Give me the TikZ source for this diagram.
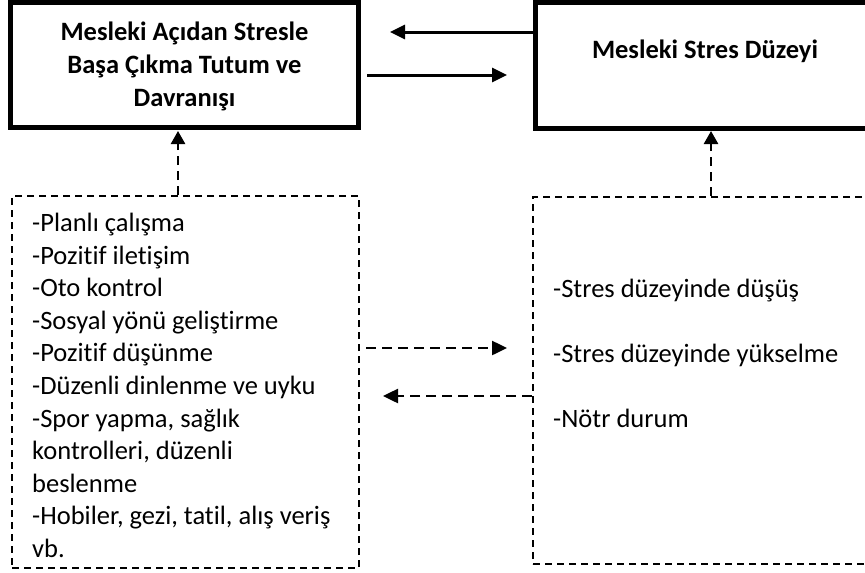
\documentclass[tikz,border=0pt]{standalone}
\usepackage{fontspec}
\setmainfont{Carlito}[Ligatures={NoCommon}]
\usetikzlibrary{arrows.meta}
\begin{document}
\begin{tikzpicture}[x=1pt,y=-1pt,
  thickbox/.style={draw, line width=5pt, rectangle, inner sep=0pt, fill=none},
  dbox/.style={draw, line width=1.8pt, dash pattern=on 7pt off 5pt, rectangle, inner sep=0pt},
  titletext/.style={font=\fontsize{26.5}{32.6}\selectfont\bfseries, align=center, inner sep=0pt},
  listtext/.style={font=\fontsize{26.5}{32.6}\selectfont, align=left, inner sep=0pt},
  solidarr/.style={line width=3pt, -{Triangle[length=15pt,width=14pt]}},
  dasharr/.style={line width=2.5pt, dash pattern=on 10pt off 6pt, -{Triangle[length=15pt,width=14pt]}},
  vdasharr/.style={line width=2.5pt, dash pattern=on 9pt off 6pt, -{Triangle[length=13pt,width=14pt]}}
]
\useasboundingbox (0,0) rectangle (865,573);
\clip (0,0) rectangle (865,573);
\fill[white] (0,0) rectangle (865,573);

% top boxes
\node[thickbox, minimum width=348pt, minimum height=125pt] (lb) at (184.5,65) {};
\node[titletext, anchor=base] (lbt) at (184.5,106) {Mesleki Açıdan Stresle\\Başa Çıkma Tutum ve\\Davranışı};
\node[thickbox, minimum width=348pt, minimum height=126pt] (rb) at (709,65.5) {};
\node[titletext, anchor=base] (rbt) at (705,58) {Mesleki Stres Düzeyi};

% dashed boxes
\node[dbox, minimum width=347pt, minimum height=372pt] (ld) at (185.5,382) {};
\node[dbox, minimum width=347pt, minimum height=367pt] (rd) at (706.5,380.5) {};

\node[listtext, anchor=base west] (ldt) at (32,557.5) {-Planlı çalışma\\-Pozitif iletişim\\-Oto kontrol\\-Sosyal yönü geliştirme\\-Pozitif düşünme\\-Düzenli dinlenme ve uyku\\-Spor yapma, sağlık\\kontrolleri, düzenli\\beslenme\\-Hobiler, gezi, tatil, alış veriş\\vb.};
\node[listtext, anchor=base west, font=\fontsize{26.5}{65}\selectfont] (rdt) at (553,427.3) {-Stres düzeyinde düşüş\\-Stres düzeyinde yükselme\\-Nötr durum};

% solid arrows
\coordinate (s1e) at (390,32);
\draw[solidarr] (rb.west |- s1e) -- (s1e);
\coordinate (s2s) at (367,75);
\coordinate (s2e) at (507,75);
\draw[solidarr] (s2s) -- (s2e);

% dashed horizontal arrows
\coordinate (d1s) at (366,348);
\coordinate (d1e) at (507,348);
\draw[dasharr] (d1s) -- (d1e);
\coordinate (d2e) at (383,396);
\draw[dasharr] (rd.west |- d2e) -- (d2e);

% dashed vertical arrows
\coordinate (v1t) at (178,131);
\draw[vdasharr] (ld.north -| v1t) -- (v1t);
\coordinate (v2t) at (711,131);
\draw[vdasharr] (rd.north -| v2t) -- (v2t);
\end{tikzpicture}
\end{document}
